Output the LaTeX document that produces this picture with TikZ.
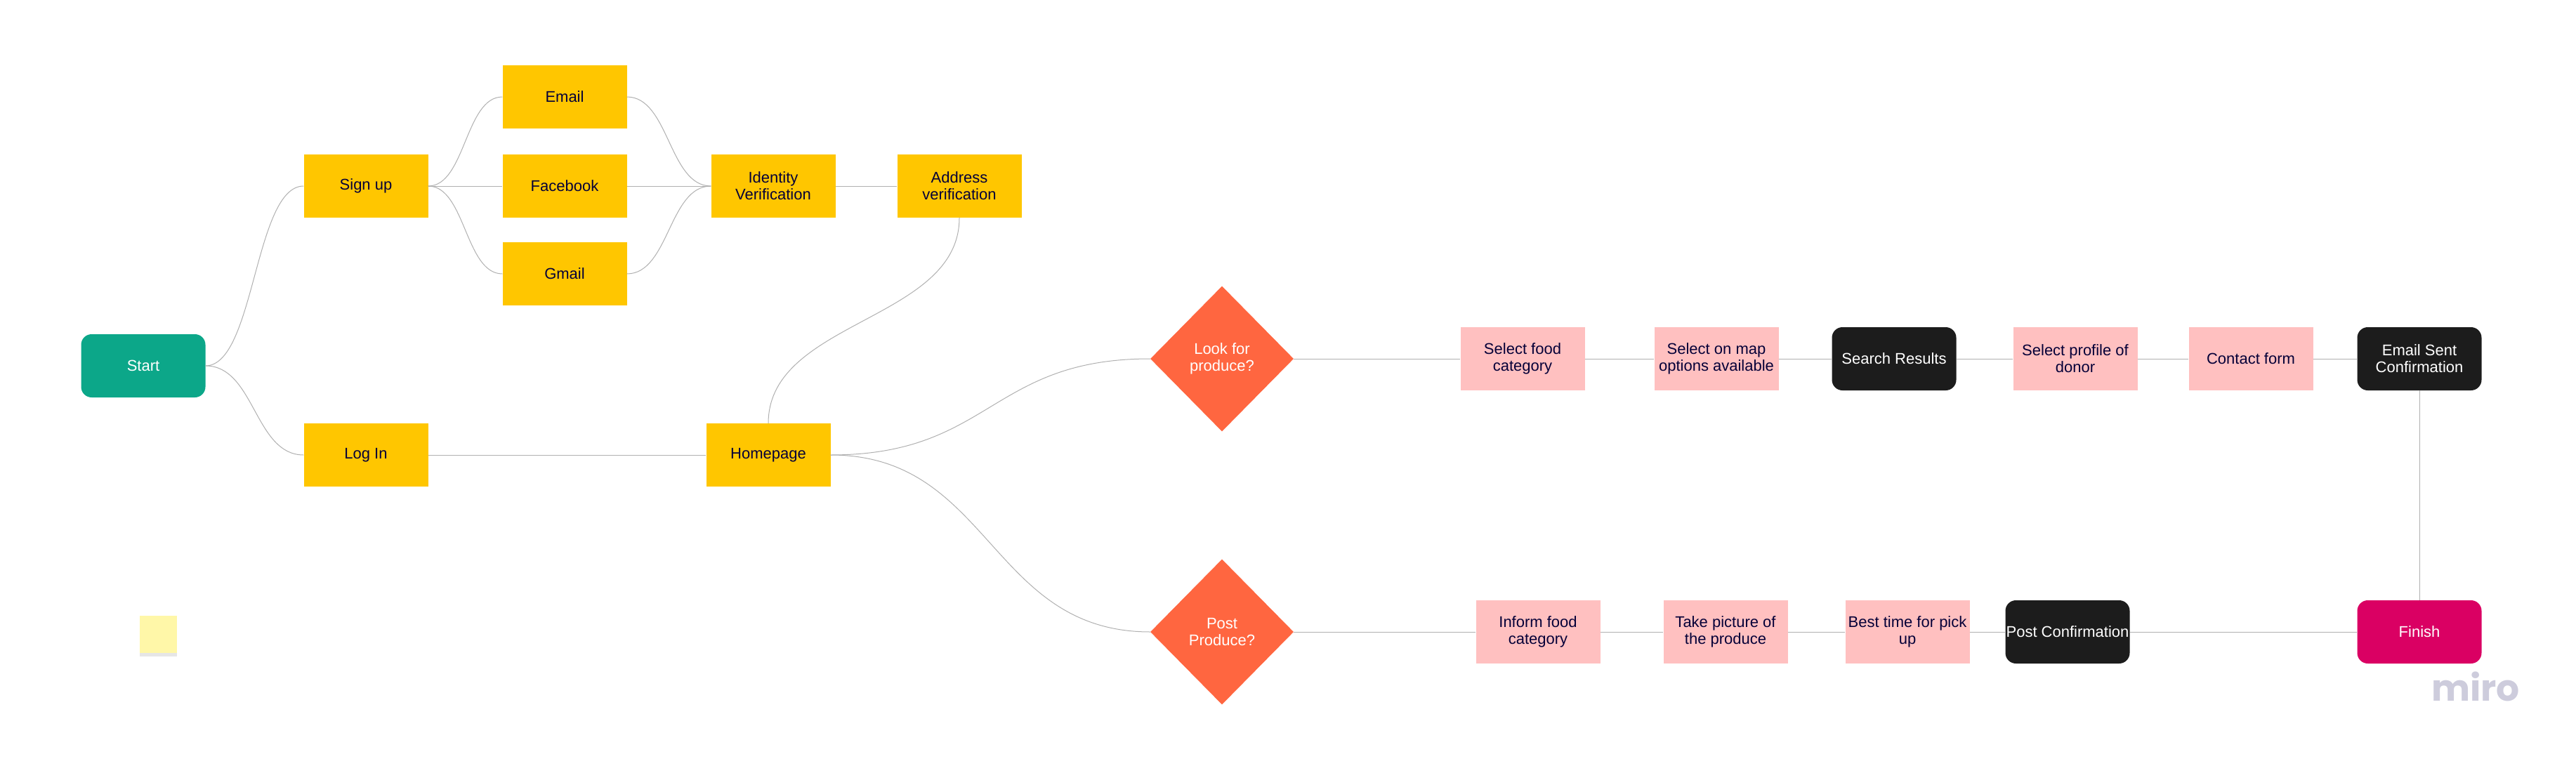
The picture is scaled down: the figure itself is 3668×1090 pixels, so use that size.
\documentclass[tikz,border=0pt]{standalone}
\usepackage{fontspec}
\setmainfont{Liberation Sans}
\newfontfamily\logofont{Poppins}
\usetikzlibrary{shapes}
\usetikzlibrary{shadows}

\definecolor{startgreen}{HTML}{0CA789}
\definecolor{boxyellow}{HTML}{FFC600}
\definecolor{choiceorange}{HTML}{FF6640}
\definecolor{steppink}{HTML}{FFC0C0}
\definecolor{darkbox}{HTML}{1C1C1C}
\definecolor{finishred}{HTML}{DA0063}
\definecolor{inknavy}{HTML}{050038}
\definecolor{linkgray}{HTML}{B0B0B0}
\definecolor{notecolor}{HTML}{FFF7A8}
\definecolor{logogray}{HTML}{CDCCDC}

\tikzset{
  card/.style={rectangle, minimum width=177pt, minimum height=90pt, inner sep=0pt,
    align=center, text=inknavy, font=\fontsize{22}{24}\selectfont},
  yellowcard/.style={card, fill=boxyellow},
  pinkcard/.style={card, fill=steppink},
  roundcard/.style={card, rounded corners=15pt, text=white},
  choice/.style={diamond, minimum width=204pt, minimum height=207pt, inner sep=0pt,
    align=center, fill=choiceorange, text=white, font=\fontsize{22}{24}\selectfont},
  link/.style={draw=linkgray, line width=1pt}
}

\begin{document}
\begin{tikzpicture}[x=1pt, y=-1pt]
  \useasboundingbox (0,0) rectangle (3668,1090);

  % Draw the sign up and log in part
  \node[roundcard, fill=startgreen] (start) at (204,521) {Start};
  \node[yellowcard] (signup) at (521,265) {Sign up};
  \node[yellowcard] (email) at (804,138) {Email};
  \node[yellowcard] (facebook) at (804,265) {Facebook};
  \node[yellowcard] (gmail) at (804,390) {Gmail};
  \node[yellowcard] (identity) at (1101,265) {Identity\\Verification};
  \node[yellowcard] (address) at (1366,265) {Address\\verification};
  \node[yellowcard] (login) at (521,648) {Log In};
  \node[yellowcard] (homepage) at (1094,648) {Homepage};

  % Draw the two questions
  \node[choice] (look) at (1740,511) {Look for\\produce?};
  \node[choice] (post) at (1740,900) {Post\\Produce?};

  % Draw the steps to look for produce
  \node[pinkcard] (selfood) at (2168,511) {Select food\\category};
  \node[pinkcard] (selmap) at (2444,511) {Select on map\\options available};
  \node[roundcard, fill=darkbox] (search) at (2697,511) {Search Results};
  \node[pinkcard] (selprofile) at (2955,511) {Select profile of\\donor};
  \node[pinkcard] (contact) at (3205,511) {Contact form};
  \node[roundcard, fill=darkbox] (emailsent) at (3445,511) {Email Sent\\Confirmation};

  % Draw the steps to post produce
  \node[pinkcard] (inform) at (2190,900) {Inform food\\category};
  \node[pinkcard] (picture) at (2457,900) {Take picture of\\the produce};
  \node[pinkcard] (besttime) at (2716,900) {Best time for pick\\up};
  \node[roundcard, fill=darkbox] (postconf) at (2944,900) {Post Confirmation};
  \node[roundcard, fill=finishred] (finish) at (3445,900) {Finish};

  % Draw the sticky note and the logo
  \node[rectangle, fill=notecolor, minimum width=53pt, minimum height=53pt, inner sep=0pt,
    drop shadow={shadow xshift=0pt, shadow yshift=-5pt, opacity=0.2}] (sticky) at (225,903) {};
  \node[text=logogray, font=\logofont\fontsize{52}{52}\bfseries\selectfont] (logo) at (3525,978) {miro};

  % Draw the curved lines
  \draw[link] (start.east) .. controls +(70,0) and +(-70,0) .. (signup.west);
  \draw[link] (start.east) .. controls +(70,0) and +(-70,0) .. (login.west);
  \draw[link] (signup.east) .. controls +(53,0) and +(-53,0) .. (email.west);
  \draw[link] (signup.east) .. controls +(53,0) and +(-53,0) .. (gmail.west);
  \draw[link] (email.east) .. controls +(60,0) and +(-60,0) .. (identity.west);
  \draw[link] (gmail.east) .. controls +(60,0) and +(-60,0) .. (identity.west);
  \draw[link] (homepage.north) .. controls +(0,-147) and +(0,147) .. (address.south);
  \draw[link] (homepage.east) .. controls +(228,0) and +(-228,0) .. (look.west);
  \draw[link] (homepage.east) .. controls +(228,0) and +(-228,0) .. (post.west);

  % Draw the straight lines
  \draw[link] (signup.east) -- (facebook.west);
  \draw[link] (facebook.east) -- (identity.west);
  \draw[link] (identity.east) -- (address.west);
  \draw[link] (login.east) -- (homepage.west);
  \draw[link] (look.east) -- (selfood.west);
  \draw[link] (selfood.east) -- (selmap.west);
  \draw[link] (selmap.east) -- (search.west);
  \draw[link] (search.east) -- (selprofile.west);
  \draw[link] (selprofile.east) -- (contact.west);
  \draw[link] (contact.east) -- (emailsent.west);
  \draw[link] (emailsent.south) -- (finish.north);
  \draw[link] (post.east) -- (inform.west);
  \draw[link] (inform.east) -- (picture.west);
  \draw[link] (picture.east) -- (besttime.west);
  \draw[link] (besttime.east) -- (postconf.west);
  \draw[link] (postconf.east) -- (finish.west);
\end{tikzpicture}
\end{document}
